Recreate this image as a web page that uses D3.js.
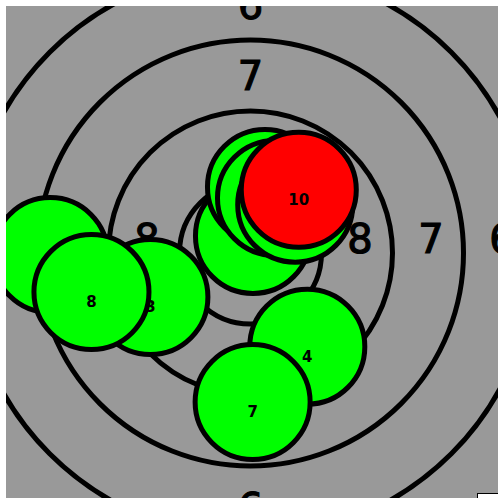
<!DOCTYPE html>
<html>
<head>
<meta charset="utf-8">
<script src="https://cdn.jsdelivr.net/npm/d3@7"></script>
<style>
html, body { margin: 0; padding: 0; overflow: hidden; background: #fff; }
svg { position: absolute; left: 6px; top: 6px; }
</style>
</head>
<body>
<script>
// Target rings (in target units) and the score written in each band
const ringRadius = [1, 2, 3, 4, 5];
const bandLabels = ["8", "7", "6", "5"];      // bands 2..5 (inner band label hidden)
const bandIndex  = [2, 3, 4, 5];

// Shots, in firing order (target units, y positive = up)
const shotNumber = [1, 2, 3, 4, 5, 6, 7, 8, 9, 10];
const shotX = [-2.82, 0.035, -1.41, 0.80, 0.204, 0.345, 0.03, -2.24, 0.63, 0.68];
const shotY = [-0.03, 0.24, -0.62, -1.32, 0.93, 0.775, -2.10, -0.55, 0.68, 0.89];
const shotRadius = 0.81;

const W = 498, H = 498, off = 6;
const svg = d3.select("body").append("svg")
  .attr("width", W - off).attr("height", H - off);
const g = svg.append("g").attr("transform", `translate(${-off},${-off})`);

const cx = 250.5, cy = 253, unit = 71;
const x = d3.scaleLinear().domain([-5, 5]).range([cx - 5 * unit, cx + 5 * unit]);
const y = d3.scaleLinear().domain([-5, 5]).range([cy + 5 * unit, cy - 5 * unit]);
const len = d => x(d) - x(0);

g.append("rect").attr("x", off).attr("y", off).attr("width", W).attr("height", H)
  .attr("fill", "#999999");

g.selectAll("circle.ring").data(ringRadius).join("circle")
  .attr("class", "ring")
  .attr("cx", x(0)).attr("cy", y(0)).attr("r", d => len(d))
  .attr("fill", "none").attr("stroke", "#000").attr("stroke-width", 5);

const labelData = [];
bandLabels.forEach((t, i) => {
  const mid = bandIndex[i] - 0.5;
  labelData.push({t, px: x(mid) + 3, py: y(0), dy: "0"});
  labelData.push({t, px: x(-mid) + 3, py: y(0), dy: "0"});
  labelData.push({t, px: x(0), py: y(mid), dy: "0.36em"});
  labelData.push({t, px: x(0), py: y(-mid), dy: "0.5em"});
});
g.selectAll("text.band").data(labelData).join("text")
  .attr("class", "band")
  .attr("x", d => d.px).attr("y", d => d.py).attr("dy", d => d.dy)
  .attr("text-anchor", "middle")
  .attr("font-family", "DejaVu Sans, sans-serif")
  .attr("font-size", 40)
  .attr("fill", "#000")
  .attr("stroke", "#000").attr("stroke-width", 1.2)
  .text(d => d.t);

const shots = shotNumber.map((n, i) => ({n, sx: shotX[i], sy: shotY[i]}));
const last = d3.max(shotNumber);
const sg = g.selectAll("g.shot").data(shots).join("g").attr("class", "shot");
sg.append("circle")
  .attr("cx", d => x(d.sx)).attr("cy", d => y(d.sy)).attr("r", len(shotRadius))
  .attr("fill", d => d.n === last ? "#ff0000" : "#00ff00")
  .attr("stroke", "#000").attr("stroke-width", 5);
sg.append("text")
  .attr("x", d => x(d.sx)).attr("y", d => y(d.sy) + 15)
  .attr("text-anchor", "middle")
  .attr("font-family", "DejaVu Sans, sans-serif")
  .attr("font-weight", "bold")
  .attr("font-size", 15)
  .attr("fill", "#000")
  .text(d => d.n);

// box at the lower right corner
g.append("rect").attr("x", 477.5).attr("y", 493.5).attr("width", 40).attr("height", 30)
  .attr("fill", "#fff").attr("stroke", "#000").attr("stroke-width", 1);
</script>
</body>
</html>
